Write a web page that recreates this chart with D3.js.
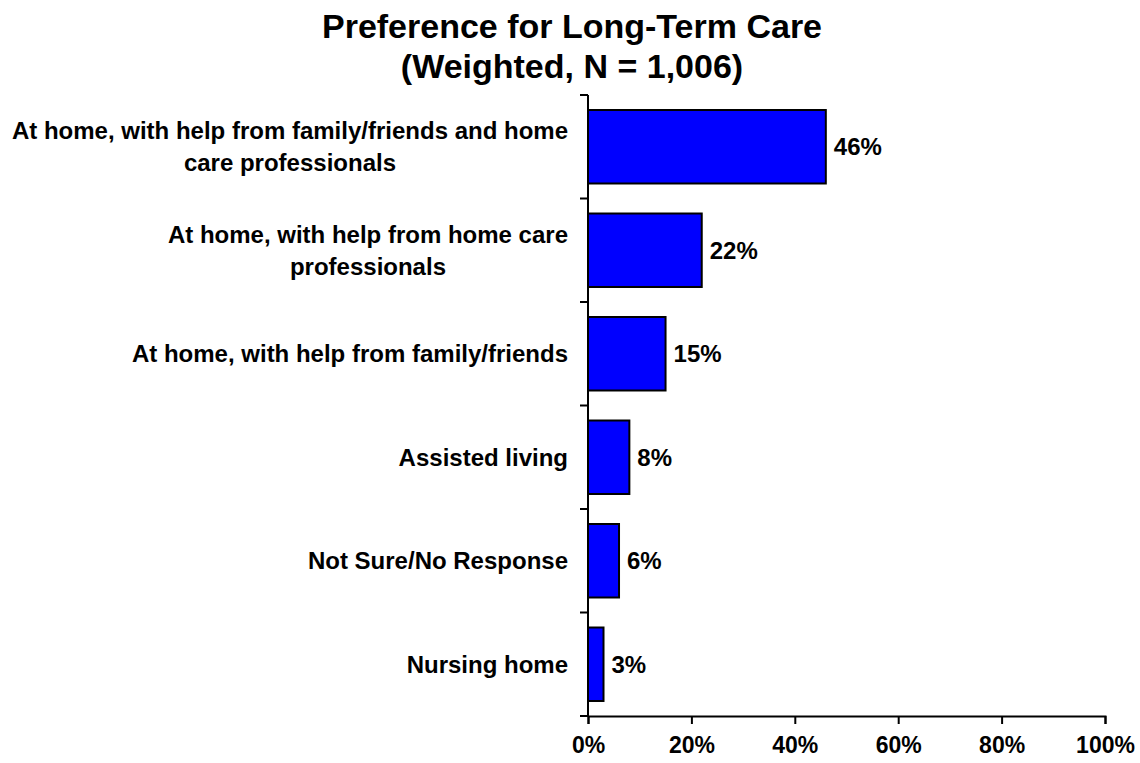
<!DOCTYPE html>
<html>
<head>
<meta charset="utf-8">
<script src="https://cdn.jsdelivr.net/npm/d3@7"></script>
<style>
  body { margin: 0; background: #fff; }
  text { font-family: "Liberation Sans", Arial, sans-serif; font-weight: bold; fill: #000; }
</style>
</head>
<body>
<svg id="chart" width="1140" height="763"></svg>
<script>
// Survey answers, top to bottom
const categories = [
  ["At home, with help from family/friends and home", "care professionals"],
  ["At home, with help from home care", "professionals"],
  ["At home, with help from family/friends"],
  ["Assisted living"],
  ["Not Sure/No Response"],
  ["Nursing home"]
];
const values = [46, 22, 15, 8, 6, 3];
const xTicks = [0, 20, 40, 60, 80, 100];
const titleLines = ["Preference for Long-Term Care", "(Weighted, N = 1,006)"];

const svg = d3.select("#chart");
const plotLeft = 588, plotRight = 1105, plotTop = 95, plotBottom = 716;

const x = d3.scaleLinear().domain([0, 100]).range([plotLeft, plotRight]);
const y = d3.scaleBand().domain(d3.range(categories.length)).range([plotTop, plotBottom])
  .paddingInner(0.29).paddingOuter(0.145);

// Title
svg.append("g").selectAll("text").data(titleLines).join("text")
  .attr("x", 572).attr("y", (d, i) => 38 + i * 40)
  .attr("text-anchor", "middle").style("font-size", "34px")
  .text(d => d);

// Bars
svg.append("g").selectAll("rect").data(values).join("rect")
  .attr("x", x(0))
  .attr("y", (d, i) => y(i))
  .attr("width", d => x(d) - x(0))
  .attr("height", y.bandwidth())
  .attr("fill", "#0000FF")
  .attr("stroke", "#000").attr("stroke-width", 2);

// Value labels
svg.append("g").selectAll("text").data(values).join("text")
  .attr("x", d => x(d) + 8)
  .attr("y", (d, i) => y(i) + y.bandwidth() / 2)
  .attr("dy", "0.35em")
  .style("font-size", "24px")
  .text(d => d + "%");

// Category labels
const step = (plotBottom - plotTop) / categories.length;
const cat = svg.append("g").selectAll("text").data(categories).join("text")
  .attr("text-anchor", "middle")
  .style("font-size", "24px");
cat.each(function(lines, i) {
  const cy = plotTop + step * (i + 0.5);
  const lh = 32;
  const t = d3.select(this);
  lines.forEach((ln, j) => {
    t.append("tspan")
      .attr("x", 0)
      .attr("y", cy + (j - (lines.length - 1) / 2) * lh)
      .attr("dy", "0.35em")
      .text(ln);
  });
});
// right-align each label block so its widest line ends near the axis
cat.each(function() {
  const t = d3.select(this);
  const w = this.getBBox().width;
  t.selectAll("tspan").attr("x", 568 - w / 2);
});

// Y axis with ticks at band boundaries
const yAxis = svg.append("g");
yAxis.append("line").attr("x1", plotLeft).attr("x2", plotLeft).attr("y1", plotTop).attr("y2", plotBottom)
  .attr("stroke", "#000").attr("stroke-width", 2);
yAxis.selectAll("line.tk").data(d3.range(categories.length + 1)).join("line")
  .attr("class", "tk")
  .attr("x1", plotLeft - 8).attr("x2", plotLeft)
  .attr("y1", i => plotTop + i * step).attr("y2", i => plotTop + i * step)
  .attr("stroke", "#000").attr("stroke-width", 2);

// X axis
const xAxis = svg.append("g").attr("transform", `translate(0,${plotBottom})`)
  .call(d3.axisBottom(x).tickValues(xTicks).tickFormat(d => d + "%").tickSize(8).tickPadding(13));
xAxis.select(".domain").attr("stroke", "#000").attr("stroke-width", 2);
xAxis.selectAll(".tick line").attr("stroke", "#000").attr("stroke-width", 2);
xAxis.selectAll(".tick text").style("font-size", "23px").style("font-family", "'Liberation Sans', Arial, sans-serif").style("font-weight", "bold");
</script>
</body>
</html>
